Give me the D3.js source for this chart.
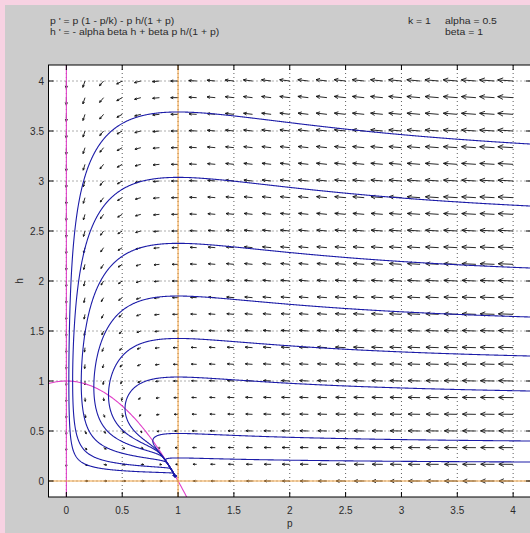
<!DOCTYPE html>
<html>
<head>
<meta charset="utf-8">
<script src="https://cdn.jsdelivr.net/npm/d3@7"></script>
<style>
  body { margin: 0; background: #cccccc; }
  svg { display: block; font-family: "Liberation Sans", Arial, sans-serif; }
</style>
</head>
<body>
<div id="chart"></div>
<script>
// Model parameters (as printed on the chart)
const k = 1;
const alpha = 0.5;
const beta = 1;

// Equation and parameter labels
const eqLines = ["p ' = p (1 - p/k) - p h/(1 + p)", "h ' = - alpha beta h + beta p h/(1 + p)"];
const paramLines = [["k = 1", "alpha = 0.5"], ["", "beta = 1"]];

// Axis ticks
const pTicks = [0, 0.5, 1, 1.5, 2, 2.5, 3, 3.5, 4];
const hTicks = [0, 0.5, 1, 1.5, 2, 2.5, 3, 3.5, 4];

// Points (p, h) where each solution curve leaves the right edge of the window
const startP = [4.15, 4.15, 4.15, 4.15, 4.15, 4.15, 4.15, 4.15];
const startH = [3.37, 2.75, 2.13, 1.64, 1.25, 0.90, 0.40, 0.19];

const W = 530, H = 533;
const plotL = 48.5, plotR = 531, plotT = 65, plotB = 497;

const x = d3.scaleLinear().domain([-0.16, 4.16]).range([plotL, plotR]);
const y = d3.scaleLinear().domain([-0.16, 4.16]).range([plotB, plotT]);

function field(p, h) {
  return [p * (1 - p / k) - p * h / (1 + p), -alpha * beta * h + beta * p * h / (1 + p)];
}

const svg = d3.select("#chart").append("svg").attr("width", W).attr("height", H);

// pink frame strips
svg.append("rect").attr("width", W).attr("height", H).attr("fill", "#cccccc");
svg.append("rect").attr("width", 5).attr("height", H).attr("fill", "#f7d2e2");
svg.append("rect").attr("width", W).attr("height", 5).attr("fill", "#f7d2e2");

// header text (wide, short lettering like the original)
const sx = 1.16;
const hdr = svg.append("g").attr("font-size", 9).attr("fill", "#2a2a2a")
  .attr("transform", `scale(${sx},1)`);
eqLines.forEach((t, i) => hdr.append("text").attr("x", 50 / sx).attr("y", 24.5 + i * 10.5).text(t));
paramLines.forEach((row, i) => {
  hdr.append("text").attr("x", 408 / sx).attr("y", 24.5 + i * 10.5).text(row[0]);
  hdr.append("text").attr("x", 445 / sx).attr("y", 24.5 + i * 10.5).text(row[1]);
});

// plot area
svg.append("defs").append("clipPath").attr("id", "clip")
  .append("rect").attr("x", plotL).attr("y", plotT).attr("width", plotR - plotL).attr("height", plotB - plotT);
svg.append("rect").attr("x", plotL).attr("y", plotT).attr("width", plotR - plotL).attr("height", plotB - plotT)
  .attr("fill", "#fff");

const plot = svg.append("g").attr("clip-path", "url(#clip)");

// dotted grid
plot.append("g").selectAll("line").data(pTicks).join("line")
  .attr("x1", d => x(d)).attr("x2", d => x(d)).attr("y1", plotT).attr("y2", plotB)
  .attr("stroke", "#333").attr("stroke-width", 0.8).attr("stroke-dasharray", "1,3");
plot.append("g").selectAll("line").data(hTicks).join("line")
  .attr("y1", d => y(d)).attr("y2", d => y(d)).attr("x1", plotL).attr("x2", plotR)
  .attr("stroke", "#333").attr("stroke-width", 0.8).attr("stroke-dasharray", "1,3");

// direction field: tails on a 1/6 grid
const gp = d3.range(25).map(i => i / 6);
const gh = d3.range(25).map(i => i / 6);
const pts = [];
gp.forEach(p => gh.forEach(h => {
  const [u, v] = field(p, h);
  pts.push({ p, h, dx: u * (x(1) - x(0)), dy: -v * (y(0) - y(1)), m: Math.hypot(u, v) });
}));
const mMax = d3.max(pts, d => d.m);
const arrowPath = d => {
  const x0 = x(d.p), y0 = y(d.h);
  if (d.m < 1e-9) return `M${x0 - 0.5},${y0}h1`;
  const L = 15.5 * Math.pow(d.m / mMax, 0.36);
  const len = Math.hypot(d.dx, d.dy);
  const ux = d.dx / len, uy = d.dy / len;
  const x1 = x0 + ux * L, y1 = y0 + uy * L;
  const hl = Math.max(2, L * 0.38), a = 0.42;
  const c = Math.cos(a), s = Math.sin(a);
  const b1x = -(ux * c - uy * s) * hl, b1y = -(ux * s + uy * c) * hl;
  const b2x = -(ux * c + uy * s) * hl, b2y = -(-ux * s + uy * c) * hl;
  return `M${x0},${y0}L${x1},${y1}M${x1 + b1x},${y1 + b1y}L${x1},${y1}L${x1 + b2x},${y1 + b2y}`;
};
plot.append("g").selectAll("path").data(pts).join("path")
  .attr("d", arrowPath).attr("fill", "none").attr("stroke", "#111").attr("stroke-width", 0.9);

// nullclines
const nullP = d3.range(-0.16, 1.2, 0.01);
plot.append("path").datum(nullP)
  .attr("d", d3.line().x(p => x(p)).y(p => y((1 - p / k) * (1 + p))))
  .attr("fill", "none").attr("stroke", "#e040c8").attr("stroke-width", 1.1);
plot.append("line").attr("x1", x(0)).attr("x2", x(0)).attr("y1", plotT).attr("y2", plotB)
  .attr("stroke", "#e040c8").attr("stroke-width", 1.1);
plot.append("line").attr("x1", x(1)).attr("x2", x(1)).attr("y1", plotT).attr("y2", plotB)
  .attr("stroke", "#f2a445").attr("stroke-width", 1.1);
plot.append("line").attr("y1", y(0)).attr("y2", y(0)).attr("x1", plotL).attr("x2", plotR)
  .attr("stroke", "#f2a445").attr("stroke-width", 1.1);

// solution curves: integrate the system from each edge point, both directions
function integrate(p, h, dir) {
  const out = [[p, h]];
  const sx = x(1) - x(0), sy = y(0) - y(1);
  const f = (a, b) => { const [u, v] = field(a, b); return [dir * u, dir * v]; };
  for (let i = 0; i < 30000; i++) {
    const [u, v] = f(p, h);
    const sp = Math.hypot(u * sx, v * sy);
    if (sp < 1e-6) break;
    const dt = 0.5 / sp;
    const k1 = f(p, h);
    const k2 = f(p + dt / 2 * k1[0], h + dt / 2 * k1[1]);
    const k3 = f(p + dt / 2 * k2[0], h + dt / 2 * k2[1]);
    const k4 = f(p + dt * k3[0], h + dt * k3[1]);
    p += dt / 6 * (k1[0] + 2 * k2[0] + 2 * k3[0] + k4[0]);
    h += dt / 6 * (k1[1] + 2 * k2[1] + 2 * k3[1] + k4[1]);
    out.push([p, h]);
    if (p > 4.4 || h > 4.4 || p < -0.2 || h < -0.2) break;
    if (dir > 0 && Math.hypot((p - 1) * sx, h * sy) < 5) break;
  }
  return out;
}
const curves = startP.map((p0, i) => {
  const back = integrate(p0, startH[i], -1).reverse();
  return back.concat(integrate(p0, startH[i], 1).slice(1));
});
plot.append("g").selectAll("path").data(curves).join("path")
  .attr("d", d3.line().x(d => x(d[0])).y(d => y(d[1])))
  .attr("fill", "none").attr("stroke", "#1c1ca8").attr("stroke-width", 1.1);

// axes box and inward ticks
svg.append("rect").attr("x", plotL).attr("y", plotT).attr("width", plotR - plotL).attr("height", plotB - plotT)
  .attr("fill", "none").attr("stroke", "#000").attr("stroke-width", 1);
const tk = svg.append("g").attr("stroke", "#000").attr("stroke-width", 1);
pTicks.forEach(t => {
  tk.append("line").attr("x1", x(t)).attr("x2", x(t)).attr("y1", plotB).attr("y2", plotB - 5);
  tk.append("line").attr("x1", x(t)).attr("x2", x(t)).attr("y1", plotT).attr("y2", plotT + 5);
});
hTicks.forEach(t => {
  tk.append("line").attr("x1", plotL).attr("x2", plotL + 5).attr("y1", y(t)).attr("y2", y(t));
  tk.append("line").attr("x1", plotR).attr("x2", plotR - 5).attr("y1", y(t)).attr("y2", y(t));
});

// tick labels
const lab = svg.append("g").attr("font-size", 10).attr("fill", "#2a2a2a");
pTicks.forEach(t => lab.append("text").attr("x", x(t)).attr("y", 514).attr("text-anchor", "middle").text(t));
hTicks.forEach(t => lab.append("text").attr("x", 44).attr("y", y(t) + 3.5).attr("text-anchor", "end").text(t));
lab.append("text").attr("x", x(2)).attr("y", 527).attr("text-anchor", "middle").text("p");
lab.append("text").attr("transform", `translate(23,${(plotT + plotB) / 2}) rotate(-90)`)
  .attr("text-anchor", "middle").text("h");
</script>
</body>
</html>
